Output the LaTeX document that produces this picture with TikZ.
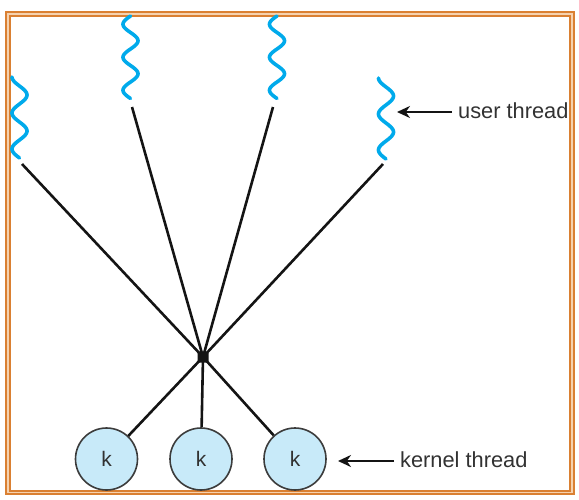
\documentclass[tikz,border=0pt]{standalone}
\usepackage{fontspec}
\setmainfont{Liberation Sans}
\usetikzlibrary{arrows.meta}
\definecolor{frameorange}{RGB}{218,128,50}
\definecolor{framepale}{RGB}{246,210,175}
\definecolor{wavecyan}{RGB}{0,170,235}
\definecolor{kfill}{RGB}{200,234,249}
\definecolor{kline}{RGB}{60,60,60}
\definecolor{txtgray}{RGB}{50,50,50}
\definecolor{linkblack}{RGB}{20,20,20}
\tikzset{
  wave/.style={draw=wavecyan, line width=3.6pt, line cap=round, line join=round},
  link/.style={draw=linkblack, line width=2.6pt},
  kcircle/.style={circle, draw=kline, line width=1.6pt, fill=kfill, minimum size=62pt, inner sep=0pt, text=txtgray, font=\fontsize{21}{24}\selectfont},
  hubnode/.style={rectangle, rounded corners=1.5pt, fill=linkblack, minimum size=11pt, inner sep=0pt},
  lbl/.style={text=txtgray, font=\fontsize{21.8}{25}\selectfont, inner sep=6pt},
  pointer/.style={draw=linkblack, line width=2.4pt, -{Stealth[length=13pt,width=12pt]}}
}
\begin{document}
\begin{tikzpicture}[x=1pt,y=-1pt]
\useasboundingbox (0,0) rectangle (579,499);
% frame
\draw[frameorange, line width=5.5pt] (8,14) rectangle (572,492.5);
\draw[framepale, line width=1.4pt] (8,14) rectangle (572,492.5);
% user threads (waves)
\draw[wave] plot[domain=0.25:2.5, samples=120, smooth] ({19.5 - 7.5*sin(360*\x)}, {77 + (\x-0.25)*36});
\draw[wave] plot[domain=0:2.5, samples=120, smooth] ({130.5 - 7.5*sin(360*\x)}, {16 + \x*33});
\draw[wave] plot[domain=0:2.5, samples=120, smooth] ({277 - 7.5*sin(360*\x)}, {16 + \x*33});
\draw[wave] plot[domain=0.25:2.5, samples=120, smooth] ({386 - 7.5*sin(360*\x)}, {78 + (\x-0.25)*36});
% line ends below waves
\coordinate (u1) at (22,164);
\coordinate (u2) at (132,107);
\coordinate (u3) at (273,107);
\coordinate (u4) at (383,164);
% hub and kernel threads
\node[hubnode] (hub) at (203,357) {};
\node[kcircle] (k1) at (106.5,459) {k};
\node[kcircle] (k2) at (201,459) {k};
\node[kcircle] (k3) at (295,459) {k};
\draw[link] (u1) -- (hub.center);
\draw[link] (u2) -- (hub.center);
\draw[link] (u3) -- (hub.center);
\draw[link] (u4) -- (hub.center);
\draw[link] (hub.center) -- (k1);
\draw[link] (hub.center) -- (k2);
\draw[link] (hub.center) -- (k3);
% labels
\node[lbl, anchor=base west] (ulabel) at (452,118) {user thread};
\node[lbl, anchor=base west] (klabel) at (394,467) {kernel thread};
\coordinate (utip) at (397,112);
\coordinate (ktip) at (338,461);
\draw[pointer] (ulabel.west |- utip) -- (utip);
\draw[pointer] (klabel.west |- ktip) -- (ktip);
\end{tikzpicture}
\end{document}
